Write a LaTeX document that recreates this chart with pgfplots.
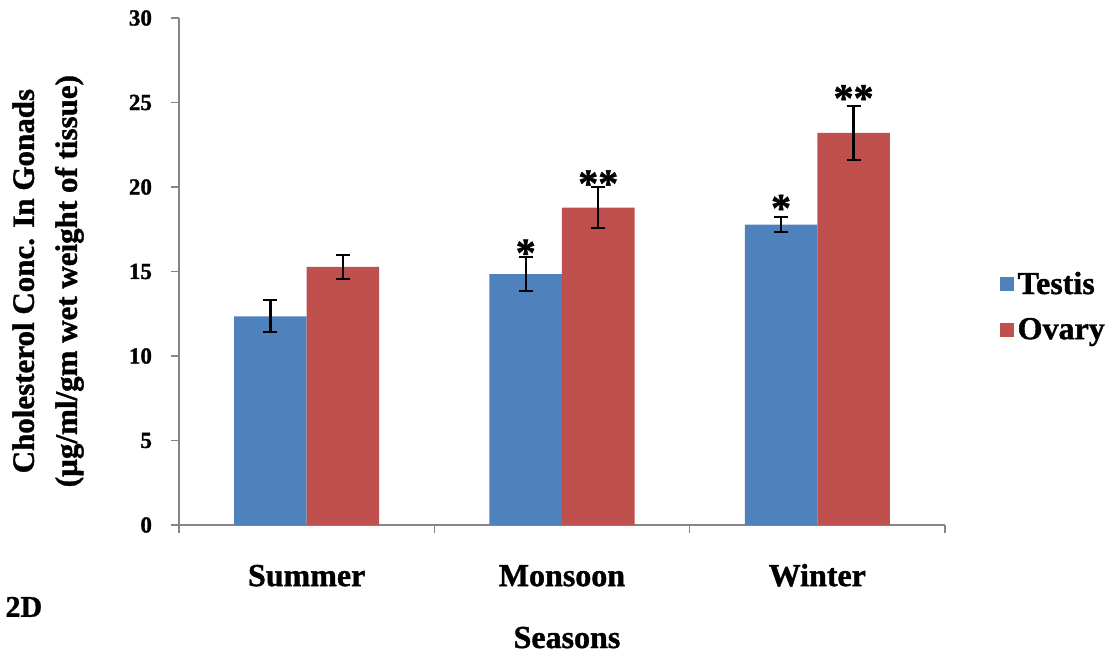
\documentclass[border=0pt]{standalone}
\usepackage{fontspec}
\setmainfont{Liberation Serif}[BoldFeatures={FakeBold=1.2}]
\usepackage{pgfplots}
\pgfplotsset{compat=1.18}
\usepackage{pgfplotstable}
\definecolor{testis}{HTML}{4F81BD}
\definecolor{ovary}{HTML}{C0504D}
\definecolor{axgray}{HTML}{868686}

\pgfplotstableread{
x y err
0 12.35 0.95
1 14.85 1.00
2 17.77 0.45
}\testisdata
\pgfplotstableread{
x y err
0 15.27 0.70
1 18.78 1.20
2 23.21 1.60
}\ovarydata

\begin{document}
\begin{tikzpicture}
\useasboundingbox (-89.5pt,-65pt) rectangle (467.5pt,262.5pt);
\begin{axis}[
  width=383pt, height=253.5pt, scale only axis,
  ymin=0, ymax=30, ytick={0,5,...,30},
  xmin=-0.5, xmax=2.5,
  axis lines*=left,
  axis line style={axgray, line width=0.8pt},
  tick style={axgray, line width=0.8pt},
  tick align=outside,
  major tick length=4pt,
  xtick={-0.5,0.5,1.5,2.5},
  xticklabels={},
  extra x ticks={0,1,2},
  extra x tick labels={Summer,Monsoon,Winter},
  extra x tick style={major tick length=0pt},
  ticklabel style={font=\bfseries\fontsize{11.5}{13}\selectfont},
  yticklabel style={xshift=-6pt},
  /pgf/number format/assume math mode=true,
  xticklabel style={font=\bfseries\fontsize{16}{18}\selectfont, text height=11pt, text depth=3pt, yshift=-16pt},
  ybar=0pt, bar width=0.284,
  ylabel={Cholesterol Conc. In Gonads\\(µg/ml/gm wet weight of tissue)},
  ylabel style={at={(axis description cs:-0.171,0.481)}, anchor=center, align=center,
    font=\bfseries\fontsize{15.5}{21.5}\selectfont},
  xlabel={Seasons},
  xlabel style={at={(axis description cs:0.5065,-0.2426)}, anchor=base,
    font=\bfseries\fontsize{16}{18}\selectfont},
  legend style={draw=none, at={(axis description cs:1.063,0.43)}, anchor=west,
    font=\bfseries\fontsize{16}{18}\selectfont, row sep=6.5pt,
    /tikz/every even column/.append style={column sep=2.5pt}},
  legend cell align=left,
  legend image code/.code={\fill[#1, draw=none] (0pt,-3.5pt) rectangle (7pt,3.5pt);},
  clip=false,
]
\addplot[fill=testis, draw=none,
  error bars/.cd, y dir=both, y explicit,
  error bar style={black, line width=1.1pt},
  error mark options={rotate=90, mark size=3.5pt, line width=1.1pt, black}]
  table[x=x, y=y, y error=err] {\testisdata};
\addlegendentry{Testis}
\addplot[fill=ovary, draw=none,
  error bars/.cd, y dir=both, y explicit,
  error bar style={black, line width=1.1pt},
  error mark options={rotate=90, mark size=3.5pt, line width=1.1pt, black}]
  table[x=x, y=y, y error=err] {\ovarydata};
\addlegendentry{Ovary}
\node[font=\bfseries\fontsize{20}{20}\selectfont] at (axis cs:0.858,16.1) {*};
\node[font=\bfseries\fontsize{20}{20}\selectfont] at (axis cs:1.142,20.2) {**};
\node[font=\bfseries\fontsize{20}{20}\selectfont] at (axis cs:1.858,18.75) {*};
\node[font=\bfseries\fontsize{20}{20}\selectfont] at (axis cs:2.142,25.25) {**};
\node[anchor=base west, inner sep=0pt, font=\bfseries\fontsize{15}{17}\selectfont] at (axis description cs:-0.227,-0.181) {2D};
\end{axis}
\end{tikzpicture}
\end{document}
